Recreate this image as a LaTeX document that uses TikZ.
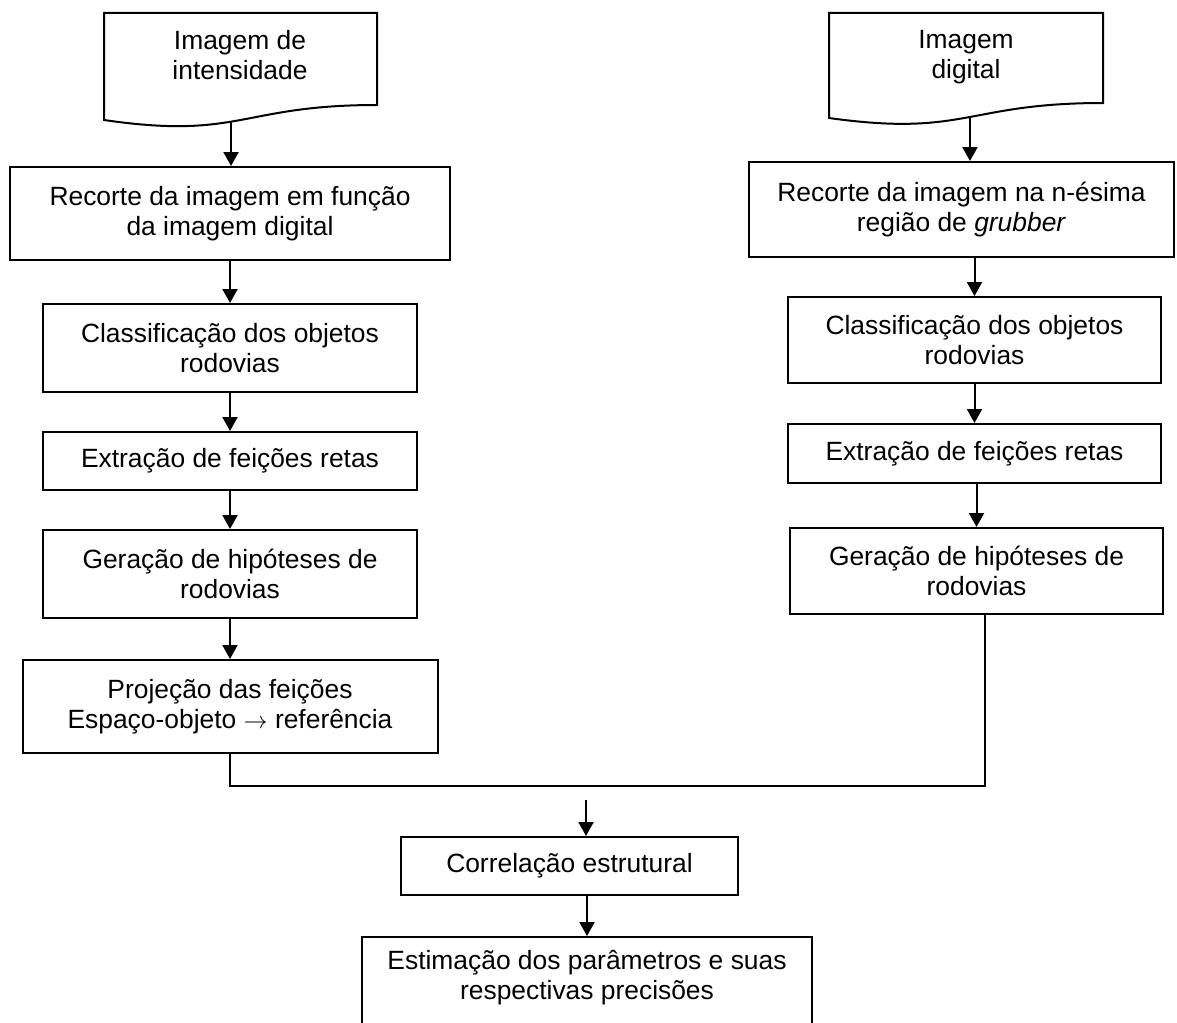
\documentclass[tikz,border=0pt]{standalone}
\usepackage{fontspec}
\setmainfont{Liberation Sans}
\usetikzlibrary{arrows.meta,intersections}
\begin{document}
\begin{tikzpicture}[x=0.5pt,y=-0.5pt,
  txt/.style={align=center,inner sep=0pt,font=\fontsize{13.2pt}{15pt}\selectfont},
  box/.style={txt,draw,line width=1pt,rectangle,line join=miter},
  link/.style={line width=1pt,line join=miter},
  arr/.style={link,-{Triangle[length=7pt,width=7.5pt]}}]
\clip (0,0) rectangle (1177,1022);

% input documents
\draw[link] (104,120) .. controls (240.5,140) and (240.5,105) .. (377,105)
  -- (377,13) -- (104,13) -- cycle;
\path[name path=wave1] (104,120) .. controls (240.5,140) and (240.5,105) .. (377,105);
\node[txt] (L1) at (240,55) {Imagem de\\intensidade};

\draw[link] (829,118) .. controls (966,137.2) and (966,103) .. (1103,103)
  -- (1103,13) -- (829,13) -- cycle;
\path[name path=wave2] (829,118) .. controls (966,137.2) and (966,103) .. (1103,103);
\node[txt] (R1) at (966,57) {Imagem\\digital};

% left column
\node[box,minimum width=220pt,minimum height=46.5pt] (L2) at (230,213.5)
  {Recorte da imagem em função\\da imagem digital};
\node[box,minimum width=187pt,minimum height=44pt] (L3) at (230,348)
  {Classificação dos objetos\\rodovias};
\node[box,minimum width=187pt,minimum height=29pt] (L4) at (230,461)
  {Extração de feições retas};
\node[box,minimum width=187pt,minimum height=44pt] (L5) at (230,574)
  {Geração de hipóteses de\\rodovias};
\node[box,minimum width=207.5pt,minimum height=46.5pt] (L6) at (230,706.5)
  {Projeção das feições\\Espaço-objeto $\rightarrow$ referência};

% right column
\node[box,minimum width=212.5pt,minimum height=47.5pt] (R2) at (961.5,209.5)
  {Recorte da imagem na n-ésima\\região de \textit{grubber}};
\node[box,minimum width=186.5pt,minimum height=43pt] (R3) at (974.5,340)
  {Classificação dos objetos\\rodovias};
\node[box,minimum width=186.5pt,minimum height=29.5pt] (R4) at (974.5,453.5)
  {Extração de feições retas};
\node[box,minimum width=186.5pt,minimum height=43pt] (R5) at (976.5,571)
  {Geração de hipóteses de\\rodovias};

% joint steps
\node[box,minimum width=168.5pt,minimum height=29pt] (C) at (569.5,866)
  {Correlação estrutural};
\node[draw,line width=1pt,rectangle,minimum width=225pt,minimum height=61.5pt,inner sep=0pt] (E) at (587,998.5) {};
\node[txt] (Elbl) at (587,977.5) {Estimação dos parâmetros e suas\\respectivas precisões};

% connectors
\path[name path=drop1] (231,0) -- (231,160);
\path[name intersections={of=wave1 and drop1,by=L1b}];
\path[name path=drop2] (970,0) -- (970,160);
\path[name intersections={of=wave2 and drop2,by=R1b}];

\draw[arr] (L1b) -- (L1b |- L2.north);
\draw[arr] (L2.south) -- (L3.north);
\draw[arr] (L3.south) -- (L4.north);
\draw[arr] (L4.south) -- (L5.north);
\draw[arr] (L5.south) -- (L6.north);

\draw[arr] (R1b) -- (R1b |- R2.north);
\draw[arr] (R2.south -| R3.north) -- (R3.north);
\draw[arr] (R3.south) -- (R4.north);
\draw[arr] (R4.south -| R5.north) -- (R5.north);

\coordinate (jl) at (230,786);
\coordinate (jr) at (985,786);
\draw[link] (L6.south) -- (jl) -- (jr) -- (jr |- R5.south);
\coordinate (js) at (586,800);
\draw[arr] (js) -- (js |- C.north);
\draw[arr] (C.south -| E.north) -- (E.north);
\end{tikzpicture}
\end{document}
